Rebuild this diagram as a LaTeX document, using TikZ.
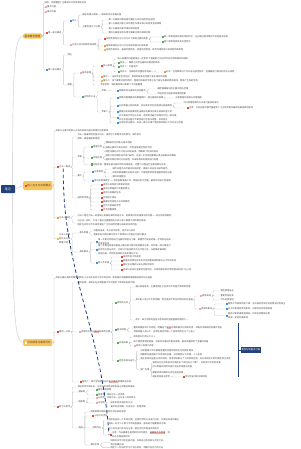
\documentclass[tikz,border=0pt]{standalone}
\usepackage{fontspec}
\setmainfont{Noto Sans CJK SC}
\usetikzlibrary{calc}
\definecolor{ink}{HTML}{4A4A4A}
\definecolor{wire}{HTML}{C8C8C8}
\definecolor{navy}{HTML}{22427C}
\definecolor{sun}{HTML}{F7C55C}
\definecolor{ired}{HTML}{E8473B}
\definecolor{ipink}{HTML}{F4A6B8}
\definecolor{iblue}{HTML}{3D8FE0}
\definecolor{igreen}{HTML}{4CAF50}
\definecolor{iorange}{HTML}{F39A2B}
\definecolor{iyellow}{HTML}{F2BE2E}
\definecolor{iteal}{HTML}{36A9A3}
\definecolor{hlbg}{HTML}{F7B3B3}
\newcommand\ico[1]{\textcolor{#1}{\rule[-0.2pt]{2.1pt}{2.1pt}}\hspace{0.6pt}}
\newcommand\hlt[1]{{\setlength{\fboxsep}{0.2pt}\colorbox{hlbg}{#1}}}
\newcommand\mlines[1]{\begin{tabular}{@{}l@{}}#1\end{tabular}}
\newcommand\kids[2]{\foreach \k in {#2} {\draw[link] (#1.east) -- ++(1.5,0) |- (\k.west);}}
\tikzset{
  leaf/.style={anchor=west,inner sep=0.3pt,align=left,text=ink,font=\fontsize{2.2}{3.9}\selectfont},
  topic/.style={anchor=west,fill=sun,rounded corners=1.2pt,inner xsep=1.5pt,inner ysep=1.4pt,
    text=ink!90!black,font=\fontsize{2.6}{3}\selectfont},
  rootbox/.style={fill=navy,rounded corners=0.6pt,minimum width=14pt,minimum height=8pt,inner sep=0pt,
    text=white,font=\fontsize{3}{3}\selectfont},
  link/.style={draw=wire,line width=0.4pt,rounded corners=1pt},
  rel/.style={draw=navy,line width=0.8pt,dash pattern=on 3.5pt off 2.5pt},
  sumline/.style={draw=navy,line width=0.8pt},
  sumbox/.style={anchor=west,fill=navy,inner xsep=1pt,inner ysep=1pt,minimum height=5.5pt,
    text=white,font=\fontsize{2.3}{3}\selectfont},
}
\begin{document}
\begin{tikzpicture}[x=1pt,y=-1pt]
  \fill[white] (0,0) rectangle (300,449);
  \useasboundingbox (0,0) rectangle (300,449);

  \node[rootbox] (root) at (8,189) {笔记};
  \node[topic] (ya) at (23,36) {基本概念梳理};
  \node[topic,minimum height=9pt] (yb) at (23,185.5) {\ico{ired}核心方法与实践要点};
  \node[topic,minimum height=7pt] (yc) at (23,342.5) {\ico{white}应用场景与案例分析};

  \draw[link] ($(root.north east)+(-2.5,0)$) .. controls (12.5,70) and (14,36) .. (ya.west);
  \draw[link] (root.east) -- (yb.west);
  \draw[link] ($(root.south east)+(-2.5,0)$) .. controls (12.5,300) and (14,342.5) .. (yc.west);

  % first topic
  \node[leaf] (a1) at (44,3) {说明：本图整理了主要知识点及其相互关系};
  \node[leaf] (a2) at (44,7) {\ico{ipink}重点内容};
  \node[leaf] (a3) at (44,12) {\ico{ipink}难点内容};
  \node[leaf] (a4) at (45,33) {\ico{ired}第一部分概述};
  \node[leaf] (a5) at (45,70) {\ico{iblue}第二部分要点};
  \node[leaf] (b1) at (69,21) {\ico{iblue}定义};
  \node[leaf] (c1) at (82,15) {概念的提出背景——相关的历史发展过程};
  \node[leaf] (c2) at (82,27) {主要包括以下方面};
  \node[leaf] (d1) at (108,20) {第一方面是对象的基本属性与内在结构特征说明};
  \node[leaf] (d2) at (108,24) {第二方面是对象之间的相互作用关系以及其变化规律等};
  \node[leaf] (d3) at (108,29) {第三方面是外部环境的影响因素};
  \node[leaf] (d4) at (108,33) {第四方面是实际应用中需要注意的关键问题};
  \node[leaf] (b2) at (69,45) {\ico{ipink}分类方法与判断标准说明};
  \node[leaf] (c3) at (103,39) {\ico{ired}按照性质划分可以分为以下两种主要的类型};
  \node[leaf] (e1) at (161,37) {\ico{igreen}第一种类型具有稳定性的特点，在长期过程中保持不变的基本结构};
  \node[leaf] (e2) at (161,42) {\ico{igreen}第二种类型具有变化性特点};
  \node[leaf] (c4) at (103,46) {\ico{iorange}按照来源划分可以分为内部来源与外部来源};
  \node[leaf] (c5) at (103,50) {\ico{iyellow}按照作用划分：直接作用类型、间接作用类型、综合作用类型以及其他特殊类型};
  \node[leaf] (b3) at (67,55) {特征};
  \node[leaf] (b4) at (67,85) {原理};
  \node[leaf] (c6) at (79,73) {\ico{ipink}基本原理};
  \node[leaf] (f1) at (100,66) {\ico{ired}核心原理};
  \node[leaf] (g1) at (117,59) {核心原理的内容是指在一定条件下各要素之间必然存在的本质联系和规律};
  \node[leaf] (g2) at (117,63) {\ico{igreen}条件一：要素之间存在着相对稳定的联系};
  \node[leaf] (g3) at (117,67) {\ico{igreen}条件二：外部支持};
  \node[leaf] (g4) at (117,72) {\ico{igreen}条件三：内部结构完整且协调统一};
  \node[leaf] (h1) at (163,72) {\ico{iorange}补充：在特殊情况下可以适当放宽条件，但需要进行相应的验证与说明};
  \node[leaf] (f2) at (100,77) {\ico{iorange}推论一：当条件发生变化时，原有的联系也会随之发生相应的调整};
  \node[leaf] (f3) at (100,81) {\ico{iyellow}推论二：多个要素共同作用时，整体的效果并不等于各个部分效果的简单相加，而是产生新的性质};
  \node[leaf] (f4) at (100,85) {参考资料：相关教材第三章第二节内容整理};
  \node[leaf] (c7) at (81,97) {\ico{iteal}应用的方法};
  \node[leaf] (f5) at (101,91) {步骤一};
  \node[leaf] (f6) at (101,112) {步骤二};
  \node[leaf] (j1) at (116,91) {\ico{iblue}明确目标与具体的任务要求};
  \node[leaf] (k1) at (157,89) {确定需要解决的主要问题与范围};
  \node[leaf] (k2) at (157,94) {列出所有可能影响结果的因素};
  \node[leaf] (j2) at (116,98) {\ico{iblue}收集并整理相关的数据资料，建立基础的档案};
  \node[leaf] (k3) at (175,98) {注意数据的来源与可靠程度};
  \node[leaf] (j3) at (116,106) {\ico{iblue}分析数据之间的联系，找出其中存在的规律与发展趋势};
  \node[leaf] (k4) at (183,103) {可以使用图表的方式进行直观的展示};
  \node[leaf] (k5) at (186,108) {\ico{ired}注意：分析过程中要尽量避免个人主观判断对最终结果造成的影响};
  \node[leaf] (j4) at (116,112) {\ico{iblue}根据分析的结果制定出相应的解决方案与具体实施计划};
  \node[leaf] (j5) at (116,117.5) {\ico{iblue}\mlines{对方案进行评估与比较，选择其中最为合理可行的一种方案，\\并在实施过程中不断地进行检查与调整，及时修正}};
  \node[leaf] (j6) at (116,123) {\ico{iblue}总结经验与教训，形成一套可以推广使用的标准化工作方法与流程};

  \kids{ya}{a1,a2,a3,a4,a5}
  \kids{a4}{b1,b2}
  \kids{b1}{c1,c2}
  \kids{c2}{d1,d2,d3,d4}
  \kids{b2}{c3,c4,c5}
  \kids{c3}{e1,e2}
  \kids{a5}{b3,b4}
  \kids{b4}{c6,c7}
  \kids{c6}{f1,f2,f3,f4}
  \kids{f1}{g1,g2,g3,g4}
  \kids{g4}{h1}
  \kids{c7}{f5,f6}
  \kids{f5}{j1}
  \kids{j1}{k1,k2}
  \kids{f6}{j2,j3,j4,j5,j6}
  \kids{j2}{k3}
  \kids{j3}{k4,k5}

  % second topic
  \node[leaf] (p1) at (55,131) {本部分主要介绍核心方法的具体内容与使用的注意事项};
  \node[leaf] (p2) at (56,167) {\ico{ired}方法一概述};
  \node[leaf] (q1) at (77,137) {\mlines{方法一是最常用的基本方法，适用于大多数常见的情况，操作较为\\简单，容易掌握和使用。}};
  \node[leaf] (q2) at (77,157) {步骤};
  \node[leaf] (r1) at (90,147) {\ico{igreen}准备阶段};
  \node[leaf] (s1) at (105,143) {明确研究的对象与基本范围};
  \node[leaf] (s2) at (105,148) {准备必要的工具与材料，并检查其是否完好可用};
  \node[leaf] (s3) at (105,152) {制定详细的工作计划与时间安排，明确每个阶段的目标};
  \node[leaf] (r2) at (90,158) {\ico{igreen}实施阶段};
  \node[leaf] (s4) at (105,156) {按照计划的顺序逐步进行操作，在每一步完成后都要认真记录相关的数据};
  \node[leaf] (s5) at (105,160) {遇到问题时及时分析原因，并采取有效的措施进行处理};
  \node[leaf] (r3) at (90,164.5) {\ico{igreen}总结阶段：整理全部记录并撰写总结报告，对整个过程进行全面回顾与反思};
  \node[leaf] (q3) at (77,176) {要点};
  \node[leaf] (r4) at (91,172) {\ico{iblue}注意事项};
  \node[leaf] (s7) at (112,169) {操作过程中必须遵守相关规定，确保人员安全与操作规范};
  \node[leaf] (s8) at (112,173) {所有的数据都应当如实记录，不得随意修改或者删除原始记录};
  \node[leaf] (s9) at (112,177) {保持环境整洁};
  \node[leaf] (r5) at (91,181) {\ico{iblue}常见的错误类型};
  \node[leaf] (s10) at (113,181) {忽视前期准备工作、数据记录不完整、最终结论缺乏依据等};
  \node[leaf] (q4) at (77,198) {适用的范围};
  \node[leaf] (r6) at (100,185) {\ico{ired}适用于结构较为简单的问题};
  \node[leaf] (r7) at (100,189) {\ico{ired}适用于数据较为完整的情况};
  \node[leaf] (r8) at (100,193) {\ico{ired}适用于短期的任务};
  \node[leaf] (r9) at (100,198) {\ico{ired}不适用于复杂};
  \node[leaf] (r10) at (100,202) {\ico{ired}需要结合其他方法共同使用};
  \node[leaf] (r11) at (100,206) {\ico{ired}可作为基础的参考};
  \node[leaf] (r12) at (100,210) {\ico{ired}灵活调整使用};
  \node[leaf] (p3) at (56,218) {\ico{iorange}方法二概述};
  \node[leaf] (q5) at (77,216) {方法二是在方法一的基础上发展起来的改进方法，能够更好地处理复杂的问题——详见后续的案例};
  \node[leaf] (q6) at (77,223) {\mlines{与方法一相比，方法二更加注重整体的分析与各个要素之间的相互联系，\\因此在实际工作中具有更加广泛的应用范围与较高的实用价值}};
  \node[leaf] (p4) at (56,239) {\ico{iyellow}\mlines{方法三及其\\他补充方法\\简要介绍}};
  \node[leaf] (q7) at (79,233) {基本思路};
  \node[leaf] (s11) at (93,231) {从整体出发，先分析后综合，逐步深入研究};
  \node[leaf] (s12) at (93,235) {将复杂的问题分解为若干个简单的小问题分别加以解决};
  \node[leaf] (q8) at (79,252) {具体做法};
  \node[leaf] (r13) at (95,242) {\ico{iblue}\mlines{第一步是对问题进行全面的调查与了解，掌握尽可能多的第一手资料与相关\\的背景信息}};
  \node[leaf] (r14) at (95,249.7) {\ico{iblue}\mlines{第二步是在调查的基础上提出若干种可能的解决方案，并对每一种方案进行\\初步的分析与评价，比较它们各自的优点与不足之处，从而确定最终的\\实施方案，并制定具体的实施步骤与计划}};
  \node[leaf] (r15) at (95,263) {\ico{iblue}第三步实施};
  \node[leaf] (t1) at (120,257) {\ico{ired}及时检查工作进度};
  \node[leaf] (t2) at (120,261) {\ico{ired}根据实际情况的变化灵活调整具体的做法与工作的安排};
  \node[leaf] (t3) at (120,265) {\ico{ired}做好全过程的记录与资料的保存};
  \node[leaf] (t4) at (120,270) {\ico{ired}完成以后进行全面的总结评估，并将结果及时反馈给相关的部门与人员};

  \kids{yb}{p1,p2,p3,p4}
  \kids{p2}{q1,q2,q3,q4}
  \kids{q2}{r1,r2,r3}
  \kids{r1}{s1,s2,s3}
  \kids{r2}{s4,s5}
  \kids{q3}{r4,r5}
  \kids{r4}{s7,s8,s9}
  \kids{r5}{s10}
  \kids{q4}{r6,r7,r8,r9,r10,r11,r12}
  \kids{p3}{q5,q6}
  \kids{p4}{q7,q8}
  \kids{q7}{s11,s12}
  \kids{q8}{r13,r14,r15}
  \kids{r15}{t1,t2,t3,t4}

  % third topic
  \node[leaf] (u1) at (55,278) {本部分通过具体的案例说明以上方法在实际工作中的应用，帮助更好地理解和掌握相关的知识与技能};
  \node[leaf] (u2) at (56,332) {\ico{ired}案例一分析};
  \node[leaf] (v1) at (77,283) {案例背景：某单位在日常管理工作中遇到了效率较低的问题};
  \node[leaf] (v2) at (78,332) {\ico{ipink}问题的分析与\hlt{解决}的具体过程};
  \node[leaf] (gr1) at (114,303) {\ico{igreen}原因的分析};
  \node[leaf] (w1) at (135,287) {通过调查发现，主要原因在于各项工作流程不够清晰合理};
  \node[leaf] (w2) at (135,300) {其次是人员分工不够明确，责任落实不到位的情况较为普遍};
  \node[leaf] (x1) at (199,296) {\ico{ipink}具体表现};
  \node[leaf] (y1) at (220,291) {相互推诿扯皮};
  \node[leaf] (y2) at (220,296) {重复劳动较多};
  \node[leaf] (y3) at (220,300) {工作进度滞后};
  \node[leaf] (x2) at (198,309) {\ico{ipink}造成的影响};
  \node[leaf] (bl1) at (225,304) {\ico{iblue}整体工作效率明显下降，无法按时完成任务的情况时有发生};
  \node[leaf] (bl2) at (225,309) {\ico{iblue}员工的积极性受到影响，内部的协作氛围较差};
  \node[leaf] (bl3) at (225,315.5) {\ico{iblue}\mlines{服务对象的满意度降低，对单位的整体形象\\造成一定的负面影响}};
  \node[leaf] (w3) at (135,320) {此外，缺乏有效的监督与考核机制也是重要的原因之一};
  \node[leaf] (gr2) at (114,330) {\ico{igreen}解决措施};
  \node[leaf] (w4) at (133,328) {重新梳理各项工作流程，明确各个\hlt{环节}的具体要求与完成时限，并编写详细规范的操作手册};
  \node[leaf] (w5) at (133,332) {合理调整人员分工，将责任落实到每一个具体的岗位与个人身上};
  \node[leaf] (gr3) at (116,343) {\ico{igreen}实施效果};
  \node[leaf] (w6) at (133,337) {效率提升约百分之三十};
  \node[leaf] (w7) at (133,342) {员工满意度明显提高，内部的沟通协作更加顺畅，服务质量得到了显著的改善};
  \node[leaf] (w8) at (133,346) {\ico{ipink}获得上级部门表彰};
  \node[leaf] (gr4) at (116,361) {\ico{igreen}经验总结与启示};
  \node[leaf] (w9) at (140,351) {日常管理工作中要高度重视流程的规范化与制度化建设};
  \node[leaf] (w10) at (140,355) {明确责任是提高工作效率的关键，必须做到分工合理、人人有责};
  \node[leaf] (w11) at (140,359) {建立有效的监督与考核机制，将考核结果与个人的绩效挂钩，充分调动员工的积极性和主动性};
  \node[leaf] (w12) at (140,370) {推广应用};
  \node[leaf] (z1) at (152,363) {该做法已在本系统内的其他多个单位进行了推广，并取得了良好的效果};
  \node[leaf] (z2) at (152,367) {可以根据实际情况进行适当的调整与完善};
  \node[leaf] (z3) at (152,373) {需要持续地跟踪与评估实施效果};
  \node[leaf] (z4) at (152,377) {相关的链接与参考};
  \node[leaf] (z5) at (182,377) {\ico{ired}参见附录中的详细资料};
  \node[leaf] (v3) at (79,382) {\ico{ired}案例二：某大型制造企业的\hlt{生产现场}管理改进实践};
  \node[leaf] (u3) at (56,407) {\ico{ired}练习与思考};
  \node[leaf] (v4) at (77,387) {请结合所学的知识，分析下列问题并给出自己的看法和理由};
  \node[leaf] (v5) at (78,392) {基础题};
  \node[leaf] (m1) at (95,390) {\ico{igreen}概念的辨析题};
  \node[leaf] (m2) at (95,395) {\ico{igreen}简答题：简述方法一的步骤};
  \node[leaf] (v6) at (78,402) {提高题};
  \node[leaf] (m3) at (95,398) {\ico{ipink}分析题：比较方法一与方法二的异同点};
  \node[leaf] (m4) at (95,403) {\ico{ipink}论述题};
  \node[leaf] (m5) at (110,403) {结合实际谈谈你的认识};
  \node[leaf] (m6) at (110,407) {要求观点明确、论证充分、条理清晰};
  \node[leaf] (v7) at (78,428) {拓展};
  \node[leaf] (n1) at (90,412) {阅读推荐的相关书目并写出读后感想};
  \node[leaf] (n2) at (91,416) {\ico{ired}小组讨论活动};
  \node[leaf] (n3) at (92,428) {实践作业};
  \node[leaf] (o1) at (108,420) {选择身边的一个实际问题，运用所学的方法进行分析，并提出改进的建议};
  \node[leaf] (o2) at (108,424) {完成一份不少于两千字的调查报告，报告的内容要真实可靠};
  \node[leaf] (o3) at (108,429) {在小组内进行交流与分享，相互评价并提出修改意见};
  \node[leaf] (hw) at (109,435) {\ico{ired}\mlines{注意：作业需要在规定的时间内提交，\hlt{逾期将不予受理}，请\\务必合理安排时间}};
  \node[leaf] (n4) at (90,445) {课后反思};
  \node[leaf] (o4) at (110,442.5) {\mlines{回顾本次学习的全部内容，总结自己的收获与不足之处，\\及时查漏补缺}};
  \node[leaf] (o5) at (110,447.3) {制定下一阶段的学习计划与目标，明确今后努力的方向};

  \kids{yc}{u1,u2,u3}
  \kids{u2}{v1,v2,v3}
  \kids{v2}{gr1,gr2,gr3,gr4}
  \kids{gr1}{w1,w2,w3}
  \kids{w2}{x1,x2}
  \kids{x1}{y1,y2,y3}
  \kids{x2}{bl1,bl2,bl3}
  \kids{gr2}{w4,w5}
  \kids{gr3}{w6,w7,w8}
  \kids{gr4}{w9,w10,w11,w12}
  \kids{w12}{z1,z2,z3,z4}
  \kids{z4}{z5}
  \kids{u3}{v4,v5,v6,v7}
  \kids{v5}{m1,m2}
  \kids{v6}{m3,m4}
  \kids{m4}{m5,m6}
  \kids{v7}{n1,n2,n3,n4}
  \kids{n3}{o1,o2,o3,hw}
  \kids{n4}{o4,o5}

  % summary and relationship
  \coordinate (sumtop) at (238,323);
  \coordinate (sumbot) at (238,377);
  \draw[sumline] (sumtop) -- (sumbot);
  \node[sumbox] (sumlab) at (240.5,350) {案例分析重点内容};
  \draw[sumline] ($(sumtop)!0.5!(sumbot)$) -- (sumlab.west);

  \draw[rel] (p2.south) .. controls (62,270) and (102,330) .. (hw.west);
\end{tikzpicture}
\end{document}
